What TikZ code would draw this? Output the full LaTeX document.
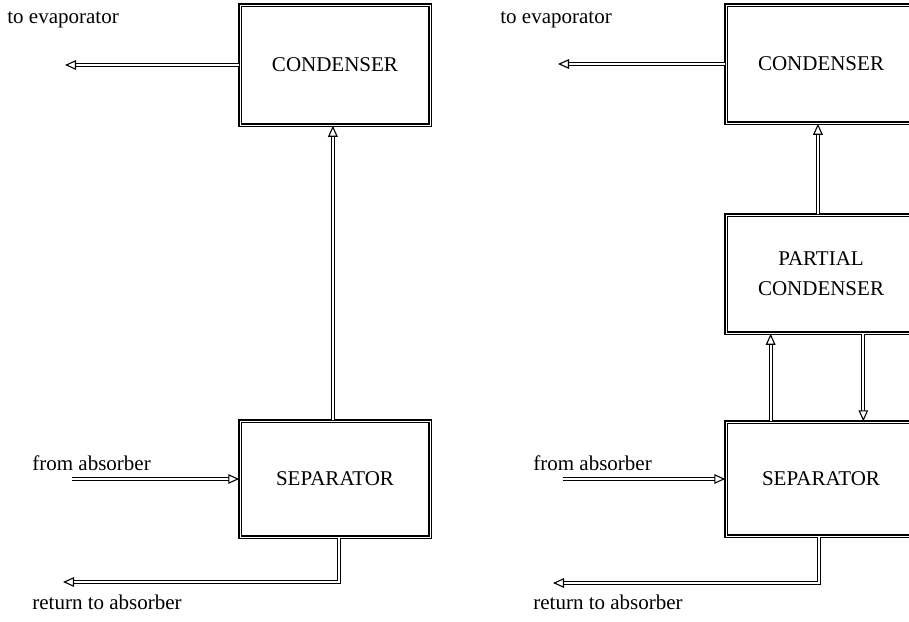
\documentclass[tikz,border=0pt]{standalone}
\usepackage{fontspec}
\setmainfont{Liberation Serif}
\usetikzlibrary{arrows.meta,calc}
\begin{document}
\begin{tikzpicture}[x=0.5pt,y=-0.5pt,
  unitbox/.style={draw, double, line width=0.75pt, double distance=0.5pt,
    minimum width=95pt, minimum height=#1, inner sep=0pt, align=center,
    font=\fontsize{10.5}{15}\selectfont},
  flow/.style={double, line width=0.55pt, double distance=0.9pt,
    -{Triangle[open,length=5.5pt,width=4.8pt]}},
  lbl/.style={anchor=west, inner sep=0pt, font=\fontsize{10.5}{12}\selectfont}]
\useasboundingbox (0,0) rectangle (909,621);
\clip (0,0) rectangle (909,621);
\fill[white] (0,0) rectangle (909,621);

% ---------- left diagram ----------
\node[unitbox=60pt] (cond1) at (335,65) {CONDENSER};
\node[unitbox=58pt] (sep1) at (335,479) {SEPARATOR};
\node[lbl] (tev1) at (7,20) {to evaporator};
\node[lbl] (tfa1) at (32,463) {from absorber};
\node[lbl] (tra1) at (32,602) {return to absorber};
\coordinate (ev1) at (65,65);
\coordinate (fa1) at (72,479);
\coordinate (ra1) at (63,582);

\draw[flow] (cond1.west) -- (ev1);
\draw[flow] ($(sep1.north west)!0.489!(sep1.north east)$) -- ($(cond1.south west)!0.489!(cond1.south east)$);
\draw[flow] (fa1) -- (sep1.west);
\draw[flow] ($(sep1.south west)!0.521!(sep1.south east)$) |- (ra1);

% ---------- right diagram ----------
\node[unitbox=59pt] (cond2) at (821,64) {CONDENSER};
\node[unitbox=59pt] (part) at (821,274) {PARTIAL\\CONDENSER};
\node[unitbox=57pt] (sep2) at (821,479) {SEPARATOR};
\node[lbl] (tev2) at (500,20) {to evaporator};
\node[lbl] (tfa2) at (533,463) {from absorber};
\node[lbl] (tra2) at (533,602) {return to absorber};
\coordinate (ev2) at (558,64);
\coordinate (fa2) at (563,479);
\coordinate (ra2) at (553,583);

\draw[flow] (cond2.west) -- (ev2);
\draw[flow] ($(part.north west)!0.484!(part.north east)$) -- ($(cond2.south west)!0.484!(cond2.south east)$);
\draw[flow] ($(sep2.north west)!0.237!(sep2.north east)$) -- ($(part.south west)!0.237!(part.south east)$);
\draw[flow] ($(part.south west)!0.721!(part.south east)$) -- ($(sep2.north west)!0.721!(sep2.north east)$);
\draw[flow] (fa2) -- (sep2.west);
\draw[flow] ($(sep2.south west)!0.489!(sep2.south east)$) |- (ra2);
\end{tikzpicture}
\end{document}
